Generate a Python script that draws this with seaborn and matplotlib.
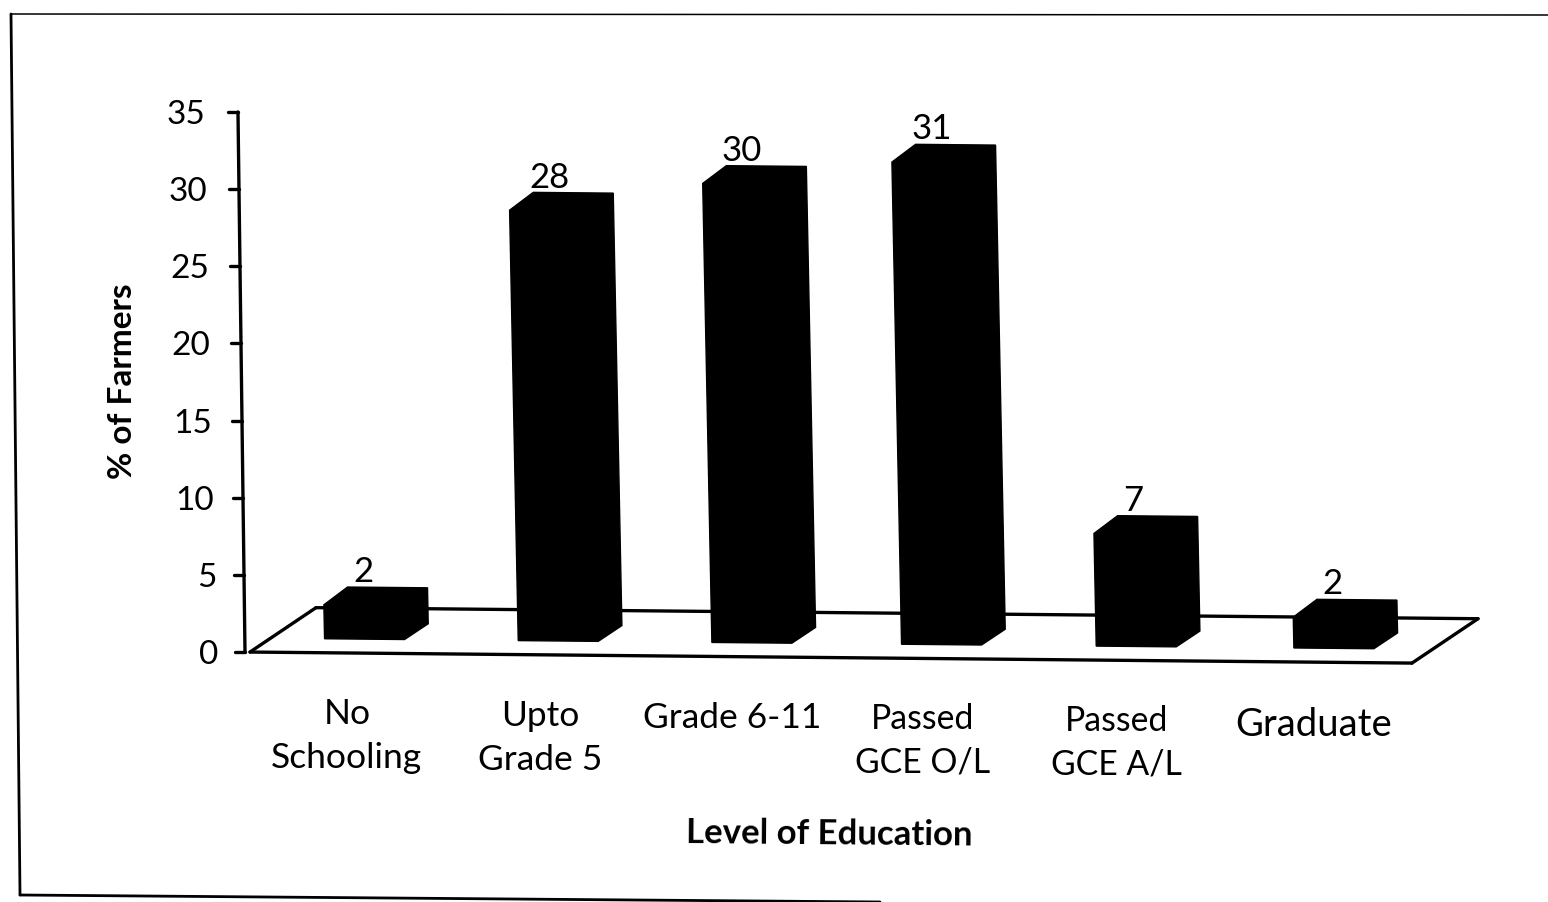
import matplotlib
matplotlib.use('Agg')
import matplotlib.pyplot as plt
import pandas as pd
import seaborn as sns
from matplotlib.lines import Line2D
from matplotlib.patches import Polygon
from matplotlib.transforms import Affine2D, IdentityTransform

levels = ['No\nSchooling', 'Upto\nGrade 5', 'Grade 6-11', 'Passed\nGCE O/L', 'Passed\nGCE A/L', 'Graduate']
# heights as they look in the picture, the labels on top are whole numbers
farmers = [2.2, 27.9, 29.75, 31.25, 7.3, 2.0]
y_ticks = [0, 5, 10, 15, 20, 25, 30, 35]

W, H = 1548, 902
sns.set_theme(style='white')
plt.rcParams['font.family'] = ['Lato', 'DejaVu Sans']
plt.rcParams['text.color'] = 'black'
plt.rcParams['axes.labelcolor'] = 'black'
plt.rcParams['xtick.labelcolor'] = 'black'
plt.rcParams['ytick.labelcolor'] = 'black'

df = pd.DataFrame({'level': levels, 'farmers': farmers})

fig = plt.figure(figsize=(W / 100, H / 100), dpi=100, facecolor='white')
ax = fig.add_axes([250 / W, 250 / H, 1162 / W, 540 / H])
ax.patch.set_alpha(0)

sns.barplot(data=df, x='level', y='farmers', color='black', width=0.413, saturation=1, ax=ax)
ax.set_ylim(0, 35)
ax.set_xlim(-0.5, 5.5)
ax.set_yticks(y_ticks)
sns.despine(ax=ax, left=True, bottom=True)


# the scan is a bit crooked, so everything goes through a small shear
def tilt(k=0.02, m=0.0095):
    return Affine2D.from_values(1, -m, -k, 1, k * 250, m * 245)


dx, dy = 24, 18
bar_nudge = [0, 0, 0, -4, -3, 1]

for bar, val, nudge in zip(ax.patches, farmers, bar_nudge):
    bar_shift = Affine2D().translate(18 + nudge, 14)
    x0, x1 = bar.get_x(), bar.get_x() + bar.get_width()
    bl, br, tl, tr = (ax.transData + bar_shift).transform([(x0, 0), (x1, 0), (x0, val), (x1, val)])
    bar.set_transform(ax.transData + bar_shift + tilt())
    shape = Polygon([bl, br, br + (dx, dy - 2), tr + (dx, dy), tl + (dx, dy), tl],
                    closed=True, fc='black', ec='black', lw=1, transform=tilt(), zorder=3)
    ax.add_patch(shape)
    ax.text((x0 + x1) / 2, val, str(round(val)), ha='center', va='center', fontsize=25,
            transform=ax.transData + bar_shift + Affine2D().translate(0, 33) + tilt(), zorder=4)

# floor of the 3d chart
floor_tilt = tilt(0.0, 0.0095)
x_a, x_b = ax.get_xlim()
for sh in [(0, 0), (66, 45)]:
    ax.plot([x_a, x_b], [0, 0], color='black', lw=2.4, clip_on=False, zorder=1,
            transform=ax.transData + Affine2D().translate(*sh) + floor_tilt)
for xv in (x_a, x_b):
    start = ax.transData.transform((xv, 0))
    ax.add_line(Line2D([start[0], start[0] + 66], [start[1], start[1] + 45], color='black', lw=2.4,
                       transform=floor_tilt, clip_on=False, zorder=1))

# y axis line and tick marks
y_tilt = tilt(0.013, 0.0)
y_trans = ax.get_yaxis_transform() + Affine2D().translate(-5, 0) + y_tilt
ax.plot([0, 0], [0, 35], color='black', lw=2.4, clip_on=False, transform=y_trans)
for v in y_ticks:
    base = ax.get_yaxis_transform().transform((0, v))
    ax.add_line(Line2D([base[0] - 15, base[0] - 5], [base[1], base[1]], color='black', lw=2.4,
                       transform=y_tilt, clip_on=False))

ax.tick_params(axis='y', length=0, labelsize=24)
ax.tick_params(axis='x', length=0, labelsize=25.5)
for tick, v in zip(ax.yaxis.get_major_ticks(), y_ticks):
    tick.set_pad((32 + 0.37 * v) * 0.72)
label_dx = [0, 0, -2, -5, -5, -2]
label_dy = [0, -2, -4, -5, -7, -9]
label_size = [25.5, 25.5, 25.5, 24.3, 24.3, 27.5]
for tick, ddx, ddy, size in zip(ax.xaxis.get_major_ticks(), label_dx, label_dy, label_size):
    tick.set_pad(33)
    tick.label1.set_transform(tick.label1.get_transform() + Affine2D().translate(ddx, ddy))
    tick.label1.set_linespacing(1.45)
    tick.label1.set_fontsize(size)

ax.set_xlabel('Level of Education', fontsize=25, fontweight='bold', rotation=-0.5)
ax.set_ylabel('% of Farmers', fontsize=24, fontweight='bold')
ax.xaxis.set_label_coords(829, H - 834, transform=IdentityTransform())
ax.yaxis.set_label_coords(122, H - 381, transform=IdentityTransform())
ax.xaxis.label.set_va('center')
ax.yaxis.label.set_va('center')

# scanned frame around the chart, top line is faint and the bottom one runs off the page
frame = [([11, 20], [H - 14, H - 895], 2.0), ([20, 880], [H - 895, H - 902], 2.0), ([11, W], [H - 14, H - 15], 1.1)]
for xs, ys, lw in frame:
    fig.add_artist(Line2D(xs, ys, color='black', lw=lw, transform=IdentityTransform()))

fig.savefig('out.png', dpi=100, facecolor='white')
